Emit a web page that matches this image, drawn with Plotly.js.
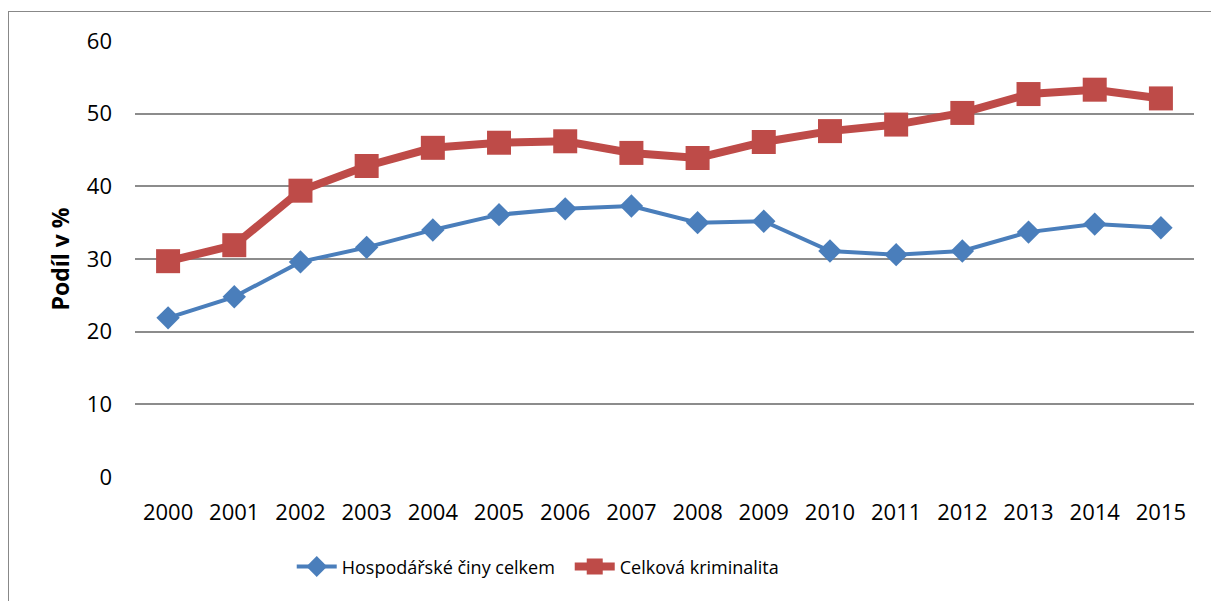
<!DOCTYPE html>
<html>
<head>
<meta charset="utf-8">
<script src="https://cdn.plot.ly/plotly-3.0.1.min.js"></script>
<style>
body { margin: 0; background: #fff; }
#frame { position: absolute; left: 8px; top: 11px; width: 1210px; height: 600px; border: 1px solid #888; box-sizing: border-box; }
#plotArea { position: absolute; left: 0; top: 0; width: 1211px; height: 601px; }
</style>
</head>
<body>
<div id="frame"></div>
<div id="plotArea"></div>
<script>
var years = ["2000", "2001", "2002", "2003", "2004", "2005", "2006", "2007",
             "2008", "2009", "2010", "2011", "2012", "2013", "2014", "2015"];
var hospodarske = [21.9, 24.8, 29.6, 31.6, 34.0, 36.1, 36.9, 37.3,
                   35.0, 35.2, 31.1, 30.6, 31.1, 33.7, 34.8, 34.3];
var celkova = [29.7, 31.9, 39.4, 42.8, 45.3, 46.0, 46.2, 44.6,
               43.9, 46.1, 47.6, 48.5, 50.1, 52.7, 53.3, 52.1];

var font = "Open Sans, Liberation Sans, sans-serif";

var data = [{
    x: years,
    y: hospodarske,
    name: "Hospodářské činy celkem",
    mode: "lines+markers",
    type: "scatter",
    line: {color: "#4a7ebb", width: 4},
    marker: {symbol: "diamond", size: 18, color: "#4a7ebb"}
}, {
    x: years,
    y: celkova,
    name: "Celková kriminalita",
    mode: "lines+markers",
    type: "scatter",
    line: {color: "#be4b48", width: 8},
    marker: {symbol: "square", size: 24, color: "#be4b48"}
}];

var layout = {
    width: 1211,
    height: 601,
    margin: {l: 135, r: 17, t: 41, b: 124},
    paper_bgcolor: "rgba(0,0,0,0)",
    plot_bgcolor: "rgba(0,0,0,0)",
    font: {family: font, size: 22, color: "#000"},
    showlegend: true,
    legend: {
        orientation: "h",
        x: 0.148, xanchor: "left",
        y: -0.206, yanchor: "middle",
        font: {size: 18},
        entrywidth: 223,
        itemwidth: 40
    },
    xaxis: {
        type: "category",
        range: [-0.5, 15.5],
        showgrid: false,
        showline: false,
        zeroline: false,
        ticks: "",
        ticklabelstandoff: 20
    },
    yaxis: {
        range: [0, 60],
        dtick: 10,
        showgrid: true,
        gridcolor: "#8c8c8c",
        gridwidth: 1.5,
        zeroline: false,
        showline: false,
        ticks: "",
        ticklabelstandoff: 22,
        title: {text: "<b>Podíl v %</b>", font: {size: 23}, standoff: 10}
    }
};

Plotly.newPlot("plotArea", data, layout, {displayModeBar: false});
</script>
</body>
</html>
